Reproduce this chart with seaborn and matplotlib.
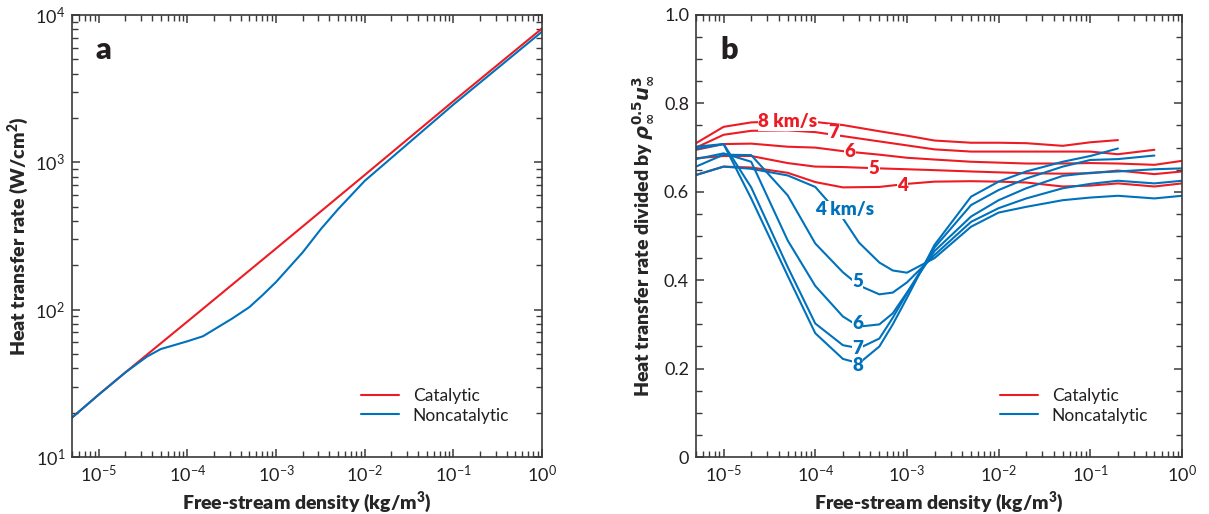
import numpy as np
import pandas as pd
import matplotlib
matplotlib.use('Agg')
import matplotlib.pyplot as plt
import seaborn as sns
from matplotlib.ticker import LogLocator, MultipleLocator, FuncFormatter, NullFormatter

# ---- data ----
# panel a: heat transfer rate (W/cm2) vs free-stream density (kg/m3)
rho_a_cat = [5e-6, 1e-5, 2e-5, 5e-5, 1e-4, 1e-3, 1e-2, 1e-1, 1.0]
q_a_cat = [18.5, 26.5, 37.5, 59, 83, 260, 820, 2600, 8100]
rho_a_non = [5e-6, 1e-5, 2e-5, 3.5e-5, 5e-5, 1e-4, 1.5e-4, 3.2e-4, 5e-4, 7e-4,
             1e-3, 2e-3, 3.2e-3, 5e-3, 1e-2, 1e-1, 1.0]
q_a_non = [18.5, 26.5, 37.5, 48, 54, 61, 66, 87, 104, 125,
           154, 245, 352, 480, 748, 2465, 7710]

# panel b: normalised heat transfer, catalytic (red) per velocity
rho_cat = [5e-6, 1e-5, 2e-5, 5e-5, 1e-4, 2e-4, 5e-4, 1e-3, 2e-3, 5e-3,
           1e-2, 2e-2, 5e-2, 0.1, 0.2, 0.5, 1.0]
cat_8 = [0.710, 0.747, 0.757, 0.760, 0.758, 0.751, 0.737, 0.727, 0.716, 0.711,
         0.711, 0.710, 0.704, 0.712, 0.717]
cat_7 = [0.700, 0.729, 0.738, 0.739, 0.735, 0.726, 0.714, 0.705, 0.696, 0.691,
         0.691, 0.691, 0.691, 0.691, 0.685, 0.695]
cat_6 = [0.695, 0.708, 0.709, 0.702, 0.700, 0.692, 0.684, 0.677, 0.673, 0.668,
         0.666, 0.664, 0.664, 0.665, 0.664, 0.661, 0.670]
cat_5 = [0.676, 0.681, 0.681, 0.665, 0.657, 0.656, 0.653, 0.651, 0.649, 0.646,
         0.644, 0.642, 0.641, 0.642, 0.648, 0.640, 0.646]
cat_4 = [0.638, 0.657, 0.655, 0.643, 0.622, 0.610, 0.611, 0.618, 0.623, 0.624,
         0.623, 0.621, 0.612, 0.614, 0.619, 0.612, 0.619]

# noncatalytic (blue)
rho_non = [5e-6, 1e-5, 2e-5, 5e-5, 1e-4, 2e-4, 3e-4, 5e-4, 7e-4, 1e-3,
           2e-3, 5e-3, 1e-2, 2e-2, 5e-2, 0.1, 0.2, 0.5, 1.0]
non_8 = [0.702, 0.708, 0.585, 0.410, 0.280, 0.222, 0.212, 0.250, 0.300, 0.360,
         0.480, 0.589, 0.623, 0.646, 0.668, 0.681, 0.698]
non_7 = [0.697, 0.708, 0.610, 0.430, 0.302, 0.253, 0.246, 0.268, 0.315, 0.370,
         0.474, 0.570, 0.604, 0.630, 0.657, 0.672, 0.674, 0.682]
non_6 = [0.674, 0.687, 0.668, 0.490, 0.387, 0.318, 0.295, 0.300, 0.325, 0.372,
         0.466, 0.544, 0.581, 0.608, 0.636, 0.643, 0.646, 0.651, 0.653]
non_5 = [0.657, 0.684, 0.683, 0.592, 0.483, 0.418, 0.388, 0.368, 0.372, 0.395,
         0.457, 0.532, 0.563, 0.585, 0.608, 0.618, 0.625, 0.619, 0.625]
non_4 = [0.638, 0.657, 0.652, 0.637, 0.611, 0.540, 0.485, 0.440, 0.422, 0.417,
         0.450, 0.521, 0.553, 0.566, 0.581, 0.587, 0.591, 0.585, 0.591]

speeds = ['8', '7', '6', '5', '4']
cat_series = [cat_8, cat_7, cat_6, cat_5, cat_4]
non_series = [non_8, non_7, non_6, non_5, non_4]

red_labels = ['8 km/s', '7', '6', '5', '4']
red_label_pos = [(5e-5, 0.758), (1.6e-4, 0.734), (2.4e-4, 0.691), (4.4e-4, 0.653), (8.9e-4, 0.615)]
blue_labels = ['4 km/s', '5', '6', '7', '8']
blue_label_pos = [(2.1e-4, 0.559), (2.9e-4, 0.397), (2.9e-4, 0.301), (2.9e-4, 0.246), (2.9e-4, 0.208)]

RED = '#ED1C24'
BLUE = '#0072BC'
TXT = '#231F20'
BOLD = 'heavy'

sns.set_style('ticks')
plt.rcParams['font.family'] = ['Lato', 'DejaVu Sans']
plt.rcParams['mathtext.fontset'] = 'custom'
plt.rcParams['mathtext.rm'] = 'Lato'
plt.rcParams['mathtext.it'] = 'Lato:italic'
plt.rcParams['mathtext.bf'] = 'Lato:heavy'
plt.rcParams['text.color'] = TXT
plt.rcParams['axes.edgecolor'] = '#3a3a3a'
plt.rcParams['axes.linewidth'] = 1.2
plt.rcParams['xtick.color'] = '#3a3a3a'
plt.rcParams['ytick.color'] = '#3a3a3a'
plt.rcParams['xtick.labelcolor'] = TXT
plt.rcParams['ytick.labelcolor'] = TXT

fig = plt.figure(figsize=(12.09, 5.14), dpi=100)
ax1 = fig.add_axes([72 / 1209, 57 / 514, 470 / 1209, 442 / 514])
ax2 = fig.add_axes([696 / 1209, 57 / 514, 486 / 1209, 442 / 514])

# ---- panel a ----
df_cat = pd.DataFrame({'rho': rho_a_cat, 'q': q_a_cat})
df_non = pd.DataFrame({'rho': rho_a_non, 'q': q_a_non})
sns.lineplot(data=df_cat, x='rho', y='q', color=RED, lw=1.5, label='Catalytic', ax=ax1)
sns.lineplot(data=df_non, x='rho', y='q', color=BLUE, lw=1.5, label='Noncatalytic', ax=ax1)
ax1.set_xscale('log')
ax1.set_yscale('log')
ax1.set_xlim(5e-6, 1)
ax1.set_ylim(10, 1e4)
ax1.set_ylabel('Heat transfer rate (W/cm$^\\mathbf{2}$)', fontsize=14, fontweight=BOLD, labelpad=3)

# ---- panel b ----
for s, vals in zip(speeds, cat_series):
    d = pd.DataFrame({'rho': rho_cat[:len(vals)], 'q': vals})
    sns.lineplot(data=d, x='rho', y='q', color=RED, lw=1.5, ax=ax2,
                 label='Catalytic' if s == '8' else None)
for s, vals in zip(speeds, non_series):
    d = pd.DataFrame({'rho': rho_non[:len(vals)], 'q': vals})
    sns.lineplot(data=d, x='rho', y='q', color=BLUE, lw=1.5, ax=ax2,
                 label='Noncatalytic' if s == '8' else None)
ax2.set_xscale('log')
ax2.set_xlim(5e-6, 1)
ax2.set_ylim(0, 1.0)
ax2.yaxis.set_major_locator(MultipleLocator(0.2))
ax2.yaxis.set_minor_locator(MultipleLocator(0.05))
ax2.yaxis.set_major_formatter(FuncFormatter(lambda v, p: '0' if abs(v) < 1e-9 else f'{v:.1f}'))
ax2.set_ylabel('Heat transfer rate divided by '
               '$\\mathbfit{\\rho}_{\\mathbf{\\infty}}^{\\mathbf{0.5}}'
               '\\mathbfit{u}_{\\mathbf{\\infty}}^{\\mathbf{3}}$',
               fontsize=14, fontweight=BOLD, labelpad=6, math_fontfamily='dejavusans')

for txt, (x, y) in zip(red_labels, red_label_pos):
    ax2.text(x, y, txt, color=RED, fontsize=13.5, fontweight=BOLD, ha='center', va='center',
             zorder=5, bbox=dict(facecolor='white', edgecolor='none', pad=0.3))
for txt, (x, y) in zip(blue_labels, blue_label_pos):
    ax2.text(x, y, txt, color=BLUE, fontsize=13.5, fontweight=BOLD, ha='center', va='center',
             zorder=5, bbox=dict(facecolor='white', edgecolor='none', pad=0.3))

for ax, letter in [(ax1, 'a'), (ax2, 'b')]:
    ax.xaxis.set_major_locator(LogLocator(base=10, numticks=10))
    ax.xaxis.set_minor_locator(LogLocator(base=10, subs=np.arange(2, 10), numticks=20))
    ax.xaxis.set_minor_formatter(NullFormatter())
    ax.set_xlabel('Free-stream density (kg/m$^\\mathbf{3}$)', fontsize=14, fontweight=BOLD, labelpad=3)
    ax.tick_params(which='both', direction='in', top=True, right=True, labelsize=13)
    ax.tick_params(which='major', length=6, width=1.1, pad=5)
    ax.tick_params(which='minor', length=4, width=1.0)
    ax.text(0.05, 0.92, letter, transform=ax.transAxes, fontsize=22, fontweight=BOLD,
            ha='left', va='center')
    ax.legend(loc='lower right', bbox_to_anchor=(0.945, 0.06), frameon=False, fontsize=12.5,
              handlelength=2.2, handletextpad=0.8, labelspacing=0.2, borderaxespad=0.0)

ax1.yaxis.set_minor_locator(LogLocator(base=10, subs=np.arange(2, 10), numticks=20))
ax1.yaxis.set_minor_formatter(NullFormatter())

fig.savefig('out.png', dpi=100)
